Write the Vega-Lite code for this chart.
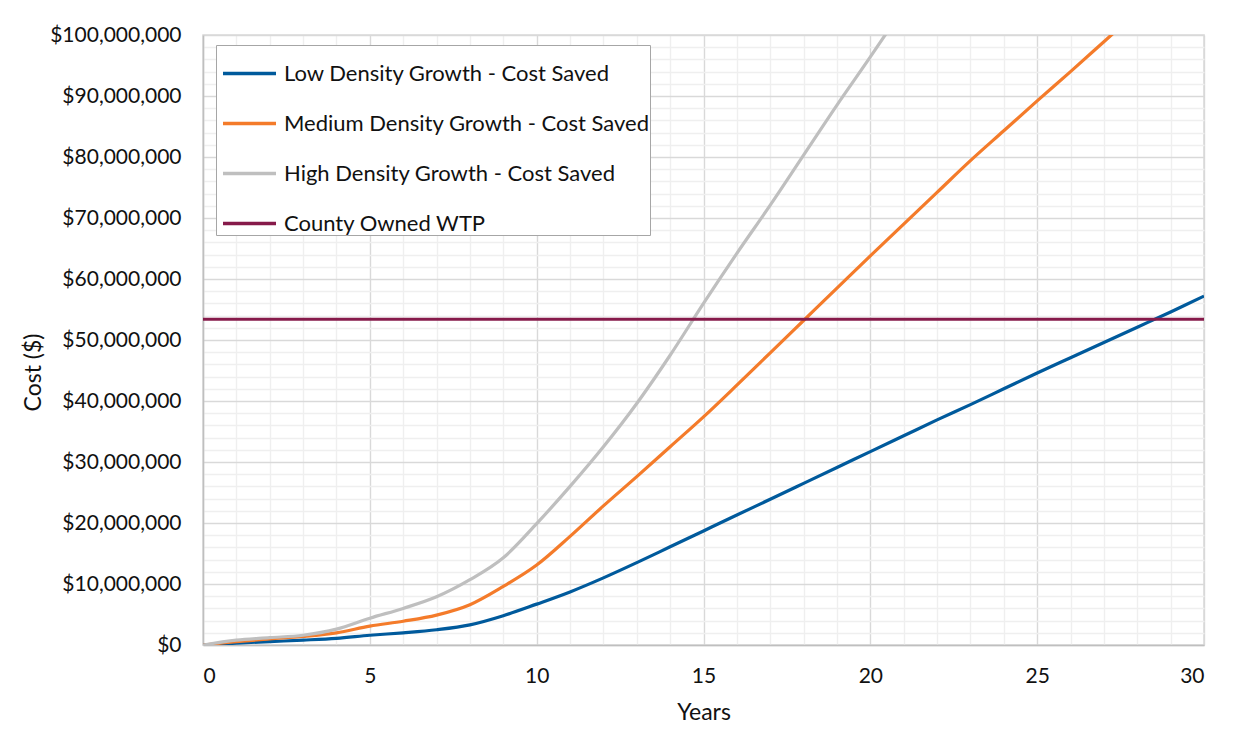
{
  "$schema": "https://vega.github.io/schema/vega-lite/v6.json",
  "autosize": "none",
  "width": 1001,
  "height": 610,
  "padding": {"left": 203, "top": 35, "right": 46, "bottom": 85},
  "background": "white",
  "config": {
    "font": "Lato",
    "view": {"stroke": "#d9d9d9", "strokeWidth": 1.5},
    "axis": {
      "labelFont": "Lato",
      "titleFont": "Lato",
      "labelFontSize": 21,
      "titleFontSize": 23,
      "labelColor": "#111111",
      "titleColor": "#111111",
      "titleFontWeight": "normal",
      "ticks": false,
      "domainColor": "#bfbfbf",
      "domainWidth": 1.5,
      "gridWidth": 1.4,
      "labelOverlap": false
    },
    "legend": {
      "orient": "none",
      "legendX": 13,
      "legendY": 10,
      "direction": "vertical",
      "strokeColor": "#a6a6a6",
      "fillColor": "white",
      "padding": 0,
      "symbolOffset": 5,
      "symbolType": "stroke",
      "symbolSize": 2809,
      "symbolStrokeWidth": 3.5,
      "labelFont": "Lato",
      "labelFontSize": 22,
      "labelColor": "#111111",
      "labelOffset": 6,
      "labelLimit": 600,
      "rowPadding": 10
    }
  },
  "data": {
    "values": [
      {"year": 0, "series": "Low Density Growth - Cost Saved", "cost": 0},
      {"year": 1, "series": "Low Density Growth - Cost Saved", "cost": 300000},
      {"year": 2, "series": "Low Density Growth - Cost Saved", "cost": 550000},
      {"year": 3, "series": "Low Density Growth - Cost Saved", "cost": 800000},
      {"year": 4, "series": "Low Density Growth - Cost Saved", "cost": 1100000},
      {"year": 5, "series": "Low Density Growth - Cost Saved", "cost": 1600000},
      {"year": 6, "series": "Low Density Growth - Cost Saved", "cost": 2000000},
      {"year": 7, "series": "Low Density Growth - Cost Saved", "cost": 2500000},
      {"year": 8, "series": "Low Density Growth - Cost Saved", "cost": 3300000},
      {"year": 9, "series": "Low Density Growth - Cost Saved", "cost": 4800000},
      {"year": 10, "series": "Low Density Growth - Cost Saved", "cost": 6700000},
      {"year": 11, "series": "Low Density Growth - Cost Saved", "cost": 8700000},
      {"year": 12, "series": "Low Density Growth - Cost Saved", "cost": 11000000},
      {"year": 13, "series": "Low Density Growth - Cost Saved", "cost": 13500000},
      {"year": 14, "series": "Low Density Growth - Cost Saved", "cost": 16100000},
      {"year": 15, "series": "Low Density Growth - Cost Saved", "cost": 18700000},
      {"year": 16, "series": "Low Density Growth - Cost Saved", "cost": 21300000},
      {"year": 17, "series": "Low Density Growth - Cost Saved", "cost": 23900000},
      {"year": 18, "series": "Low Density Growth - Cost Saved", "cost": 26500000},
      {"year": 19, "series": "Low Density Growth - Cost Saved", "cost": 29100000},
      {"year": 20, "series": "Low Density Growth - Cost Saved", "cost": 31700000},
      {"year": 21, "series": "Low Density Growth - Cost Saved", "cost": 34300000},
      {"year": 22, "series": "Low Density Growth - Cost Saved", "cost": 36900000},
      {"year": 23, "series": "Low Density Growth - Cost Saved", "cost": 39400000},
      {"year": 24, "series": "Low Density Growth - Cost Saved", "cost": 42000000},
      {"year": 25, "series": "Low Density Growth - Cost Saved", "cost": 44600000},
      {"year": 26, "series": "Low Density Growth - Cost Saved", "cost": 47100000},
      {"year": 27, "series": "Low Density Growth - Cost Saved", "cost": 49600000},
      {"year": 28, "series": "Low Density Growth - Cost Saved", "cost": 52100000},
      {"year": 29, "series": "Low Density Growth - Cost Saved", "cost": 54600000},
      {"year": 30, "series": "Low Density Growth - Cost Saved", "cost": 57200000},
      {"year": 0, "series": "Medium Density Growth - Cost Saved", "cost": 0},
      {"year": 1, "series": "Medium Density Growth - Cost Saved", "cost": 550000},
      {"year": 2, "series": "Medium Density Growth - Cost Saved", "cost": 1000000},
      {"year": 3, "series": "Medium Density Growth - Cost Saved", "cost": 1400000},
      {"year": 4, "series": "Medium Density Growth - Cost Saved", "cost": 2000000},
      {"year": 5, "series": "Medium Density Growth - Cost Saved", "cost": 3100000},
      {"year": 6, "series": "Medium Density Growth - Cost Saved", "cost": 3900000},
      {"year": 7, "series": "Medium Density Growth - Cost Saved", "cost": 4900000},
      {"year": 8, "series": "Medium Density Growth - Cost Saved", "cost": 6600000},
      {"year": 9, "series": "Medium Density Growth - Cost Saved", "cost": 9600000},
      {"year": 10, "series": "Medium Density Growth - Cost Saved", "cost": 13100000},
      {"year": 11, "series": "Medium Density Growth - Cost Saved", "cost": 17800000},
      {"year": 12, "series": "Medium Density Growth - Cost Saved", "cost": 22800000},
      {"year": 13, "series": "Medium Density Growth - Cost Saved", "cost": 27600000},
      {"year": 14, "series": "Medium Density Growth - Cost Saved", "cost": 32500000},
      {"year": 15, "series": "Medium Density Growth - Cost Saved", "cost": 37400000},
      {"year": 16, "series": "Medium Density Growth - Cost Saved", "cost": 42600000},
      {"year": 17, "series": "Medium Density Growth - Cost Saved", "cost": 47900000},
      {"year": 18, "series": "Medium Density Growth - Cost Saved", "cost": 53200000},
      {"year": 19, "series": "Medium Density Growth - Cost Saved", "cost": 58500000},
      {"year": 20, "series": "Medium Density Growth - Cost Saved", "cost": 63800000},
      {"year": 21, "series": "Medium Density Growth - Cost Saved", "cost": 69000000},
      {"year": 22, "series": "Medium Density Growth - Cost Saved", "cost": 74200000},
      {"year": 23, "series": "Medium Density Growth - Cost Saved", "cost": 79400000},
      {"year": 24, "series": "Medium Density Growth - Cost Saved", "cost": 84300000},
      {"year": 25, "series": "Medium Density Growth - Cost Saved", "cost": 89200000},
      {"year": 26, "series": "Medium Density Growth - Cost Saved", "cost": 94000000},
      {"year": 27, "series": "Medium Density Growth - Cost Saved", "cost": 98900000},
      {"year": 28, "series": "Medium Density Growth - Cost Saved", "cost": 103800000},
      {"year": 29, "series": "Medium Density Growth - Cost Saved", "cost": 108700000},
      {"year": 30, "series": "Medium Density Growth - Cost Saved", "cost": 113600000},
      {"year": 0, "series": "High Density Growth - Cost Saved", "cost": 0},
      {"year": 1, "series": "High Density Growth - Cost Saved", "cost": 800000},
      {"year": 2, "series": "High Density Growth - Cost Saved", "cost": 1200000},
      {"year": 3, "series": "High Density Growth - Cost Saved", "cost": 1600000},
      {"year": 4, "series": "High Density Growth - Cost Saved", "cost": 2600000},
      {"year": 5, "series": "High Density Growth - Cost Saved", "cost": 4400000},
      {"year": 6, "series": "High Density Growth - Cost Saved", "cost": 6000000},
      {"year": 7, "series": "High Density Growth - Cost Saved", "cost": 7900000},
      {"year": 8, "series": "High Density Growth - Cost Saved", "cost": 10700000},
      {"year": 9, "series": "High Density Growth - Cost Saved", "cost": 14300000},
      {"year": 10, "series": "High Density Growth - Cost Saved", "cost": 19900000},
      {"year": 11, "series": "High Density Growth - Cost Saved", "cost": 26000000},
      {"year": 12, "series": "High Density Growth - Cost Saved", "cost": 32500000},
      {"year": 13, "series": "High Density Growth - Cost Saved", "cost": 39600000},
      {"year": 14, "series": "High Density Growth - Cost Saved", "cost": 47500000},
      {"year": 15, "series": "High Density Growth - Cost Saved", "cost": 56000000},
      {"year": 16, "series": "High Density Growth - Cost Saved", "cost": 64200000},
      {"year": 17, "series": "High Density Growth - Cost Saved", "cost": 72100000},
      {"year": 18, "series": "High Density Growth - Cost Saved", "cost": 80300000},
      {"year": 19, "series": "High Density Growth - Cost Saved", "cost": 88500000},
      {"year": 20, "series": "High Density Growth - Cost Saved", "cost": 96400000},
      {"year": 21, "series": "High Density Growth - Cost Saved", "cost": 104500000},
      {"year": 22, "series": "High Density Growth - Cost Saved", "cost": 112600000},
      {"year": 23, "series": "High Density Growth - Cost Saved", "cost": 120700000},
      {"year": 24, "series": "High Density Growth - Cost Saved", "cost": 128800000},
      {"year": 25, "series": "High Density Growth - Cost Saved", "cost": 136900000},
      {"year": 26, "series": "High Density Growth - Cost Saved", "cost": 145000000},
      {"year": 27, "series": "High Density Growth - Cost Saved", "cost": 153100000},
      {"year": 28, "series": "High Density Growth - Cost Saved", "cost": 161200000},
      {"year": 29, "series": "High Density Growth - Cost Saved", "cost": 169300000},
      {"year": 30, "series": "High Density Growth - Cost Saved", "cost": 177400000},
      {"year": 0, "series": "County Owned WTP", "cost": 53400000},
      {"year": 30, "series": "County Owned WTP", "cost": 53400000}
    ]
  },
  "mark": {"type": "line", "interpolate": "cardinal", "strokeWidth": 3.2, "clip": true},
  "encoding": {
    "x": {
      "field": "year",
      "type": "quantitative",
      "title": "Years",
      "scale": {"domain": [0, 30], "nice": false, "zero": false},
      "axis": {
        "values": [0,1,2,3,4,5,6,7,8,9,10,11,12,13,14,15,16,17,18,19,20,21,22,23,24,25,26,27,28,29,30],
        "labelExpr": "datum.value % 5 === 0 ? format(datum.value, 'd') : ''",
        "gridColor": {"condition": {"test": "datum.value % 5 === 0", "value": "#d9d9d9"}, "value": "#efefef"},
        "labelPadding": 20,
        "titlePadding": 15
      }
    },
    "y": {
      "field": "cost",
      "type": "quantitative",
      "title": "Cost ($)",
      "scale": {"domain": [0, 100000000], "nice": false, "zero": true},
      "axis": {
        "values": [0,2000000,4000000,6000000,8000000,10000000,12000000,14000000,16000000,18000000,20000000,22000000,24000000,26000000,28000000,30000000,32000000,34000000,36000000,38000000,40000000,42000000,44000000,46000000,48000000,50000000,52000000,54000000,56000000,58000000,60000000,62000000,64000000,66000000,68000000,70000000,72000000,74000000,76000000,78000000,80000000,82000000,84000000,86000000,88000000,90000000,92000000,94000000,96000000,98000000,100000000],
        "labelExpr": "datum.value % 10000000 === 0 ? '$' + format(datum.value, ',') : ''",
        "gridColor": {"condition": {"test": "datum.value % 10000000 === 0", "value": "#d9d9d9"}, "value": "#efefef"},
        "labelPadding": 22,
        "titlePadding": 4,
        "titleY": 337
      }
    },
    "color": {
      "field": "series",
      "type": "nominal",
      "title": null,
      "scale": {
        "domain": ["Low Density Growth - Cost Saved", "Medium Density Growth - Cost Saved", "High Density Growth - Cost Saved", "County Owned WTP"],
        "range": ["#005a9c", "#f47b2a", "#bfbfbf", "#861a4a"]
      }
    },
    "order": {"field": "year", "type": "quantitative"}
  }
}
